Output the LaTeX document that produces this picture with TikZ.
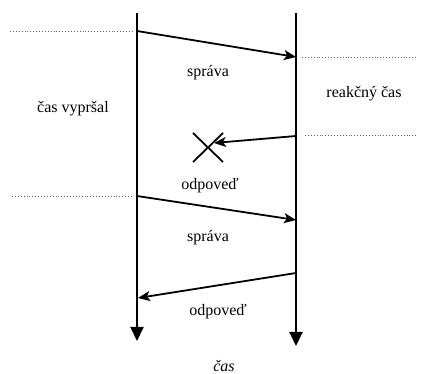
\documentclass[tikz,border=0pt]{standalone}
\usepackage{fontspec}
\setmainfont{Liberation Serif}
\newfontfamily\tnr{Liberation Serif}
\usetikzlibrary{arrows.meta}
\begin{document}
\begin{tikzpicture}[x=1pt,y=-1pt,
  life/.style={line width=2pt,-{Triangle[length=14pt,width=13pt]}},
  msg/.style={line width=1.8pt,-{Stealth[length=12pt,width=10pt,inset=3pt]}},
  guide/.style={line width=0.9pt,dotted,gray!80!black},
  lbl/.style={font=\tnr\fontsize{16}{18}\selectfont,inner sep=0pt}]
\useasboundingbox (0,0) rectangle (421,374);
% lifelines
\coordinate (lt) at (137,13);
\coordinate (lb) at (137,341);
\coordinate (rt) at (296,13);
\coordinate (rb) at (296,346);
\draw[life] (lt) -- (lb);
\draw[life] (rt) -- (rb);
% message points
\coordinate (m1s) at (137,31);
\coordinate (m1e) at (296,57);
\coordinate (m2s) at (296,136);
\coordinate (m2e) at (214,143);
\coordinate (m3s) at (137,196);
\coordinate (m3e) at (296,220);
\coordinate (m4s) at (296,273);
\coordinate (m4e) at (138,298);
\draw[msg] (m1s) -- (m1e);
\draw[msg] (m2s) -- (m2e);
\draw[msg] (m3s) -- (m3e);
\draw[msg] (m4s) -- (m4e);
% guides
\coordinate (g1) at (10,31);
\coordinate (g1e) at (133,31);
\coordinate (g2) at (302,57);
\coordinate (g2e) at (417,57);
\coordinate (g3) at (305,135);
\coordinate (g3e) at (417,135);
\coordinate (g4) at (12,196);
\coordinate (g4e) at (133,196);
\draw[guide] (g1) -- (g1e);
\draw[guide] (g2) -- (g2e);
\draw[guide] (g3) -- (g3e);
\draw[guide] (g4) -- (g4e);
% X
\coordinate (xa) at (193,133);
\coordinate (xb) at (223,162);
\coordinate (xc) at (223,133);
\coordinate (xd) at (193,162);
\draw[line width=1.8pt] (xa) -- (xb) (xc) -- (xd);
% labels
\node[lbl] (t1) at (208,73) {správa};
\node[lbl] (t2) at (364,94) {reakčný čas};
\node[lbl] (t3) at (73,109) {čas vypršal};
\node[lbl] (t4) at (210,186) {odpoveď};
\node[lbl] (t5) at (208,238) {správa};
\node[lbl] (t6) at (218,312) {odpoveď};
\node[lbl,font=\tnr\fontsize{16}{18}\selectfont\itshape] (t7) at (224,366) {čas};
\end{tikzpicture}
\end{document}
